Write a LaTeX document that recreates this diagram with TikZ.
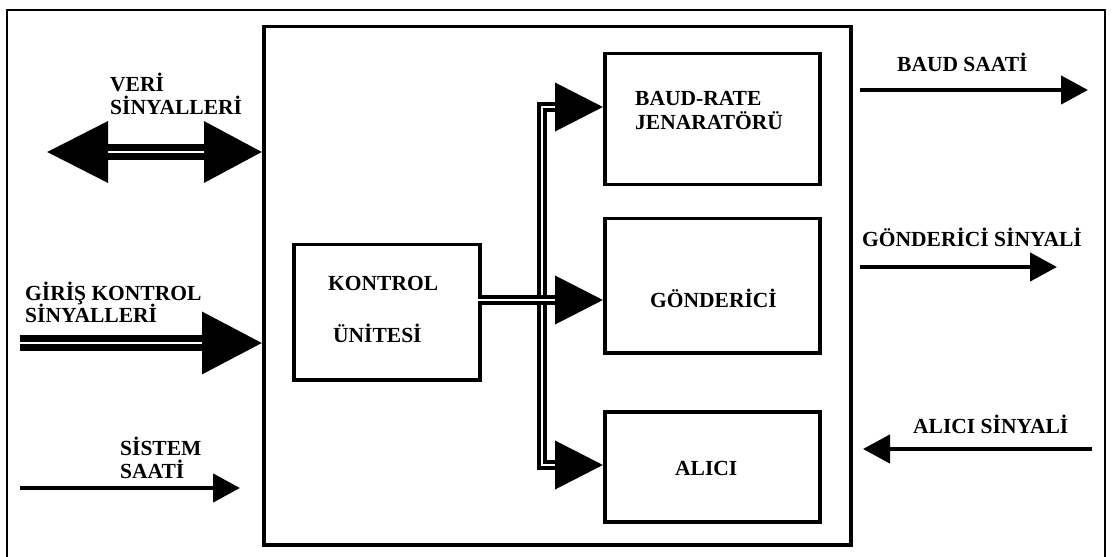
\documentclass[tikz,border=0pt]{standalone}
\usepackage{fontspec}
\setmainfont{Liberation Serif}
\usetikzlibrary{arrows.meta}
\begin{document}
\begin{tikzpicture}[x=1bp,y=-1bp,
 box/.style={draw, line width=3.5bp, anchor=north west, inner sep=0pt},
 lbl/.style={anchor=base west, inner sep=0pt, font=\fontsize{21.5bp}{23bp}\selectfont\bfseries},
 sig/.style={line width=4.5bp},
 sigtip/.style={-{Triangle[length=27bp,width=28bp]}},
 bus/.style={double, double distance=2.5bp, line width=4bp},
 fat/.style={double, double distance=2.5bp, line width=7bp}]
\useasboundingbox (0,0) rectangle (1113,557);
\draw[line width=2bp] (7,600) -- (7,10) -- (1105,10) -- (1105,600);
% boxes
\node[box, minimum width=587bp, minimum height=518bp] (main) at (262,25) {};
\node[box, minimum width=186bp, minimum height=135bp] (kontrol) at (292,243) {};
\node[box, minimum width=215bp, minimum height=131bp] (baud) at (603,52) {};
\node[box, minimum width=215bp, minimum height=134bp] (gond) at (603,217) {};
\node[box, minimum width=215bp, minimum height=110bp] (alici) at (603,410) {};
% texts in boxes
\node[lbl] (t1) at (635,106) {BAUD-RATE};
\node[lbl] (t2) at (635,130) {JENARATÖRÜ};
\node[lbl] (t3) at (328,291) {KONTROL};
\node[lbl] (t4) at (333,343) {ÜNİTESİ};
\node[lbl] (t5) at (650,308) {GÖNDERİCİ};
\node[lbl] (t6) at (675,475) {ALICI};
% outer texts
\node[lbl] (v1) at (110,92) {VERİ};
\node[lbl] (v2) at (110,115) {SİNYALLERİ};
\node[lbl] (g1) at (25,301) {GİRİŞ KONTROL};
\node[lbl] (g2) at (25,323) {SİNYALLERİ};
\node[lbl] (s1) at (120,455) {SİSTEM};
\node[lbl] (s2) at (120,478) {SAATİ};
\node[lbl] (b1) at (897,72) {BAUD SAATİ};
\node[lbl] (gs) at (862,247) {GÖNDERİCİ SİNYALİ};
\node[lbl] (as) at (913,433) {ALICI SİNYALİ};
% coordinates
\coordinate (veriL) at (47,152);
\coordinate (girisL) at (20,343);
\coordinate (sisL) at (20,488);
\coordinate (sisR) at (240,488);
\coordinate (baudL) at (860,90);
\coordinate (baudR) at (1088,90);
\coordinate (gonL) at (860,267);
\coordinate (gonR) at (1057,267);
\coordinate (alR) at (1092,449);
\coordinate (alL) at (863,449);
\coordinate (kx) at (478,300);
\coordinate (bt) at (542,107);
\coordinate (bb) at (542,465);
% big arrows
\draw[fat, {Triangle[length=61bp,width=60bp]}-{Triangle[length=58bp,width=60bp]}] (veriL) -- (main.west |- veriL);
\draw[fat, -{Triangle[length=60bp,width=61bp]}] (girisL) -- (main.west |- girisL);
% bus
\draw[bus, {Triangle[length=48bp,width=48bp]}-{Triangle[length=48bp,width=48bp]}] (baud.west |- bt) -- (bt) -- (bb) -- (alici.west |- bb);
\draw[bus, -{Triangle[length=48bp,width=48bp]}] (kx) -- (gond.west |- kx);
% signal arrows
\draw[sig, sigtip] (sisL) -- (sisR);
\draw[sig, sigtip] (baudL) -- (baudR);
\draw[sig, sigtip] (gonL) -- (gonR);
\draw[sig, sigtip] (alR) -- (alL);
\end{tikzpicture}
\end{document}
